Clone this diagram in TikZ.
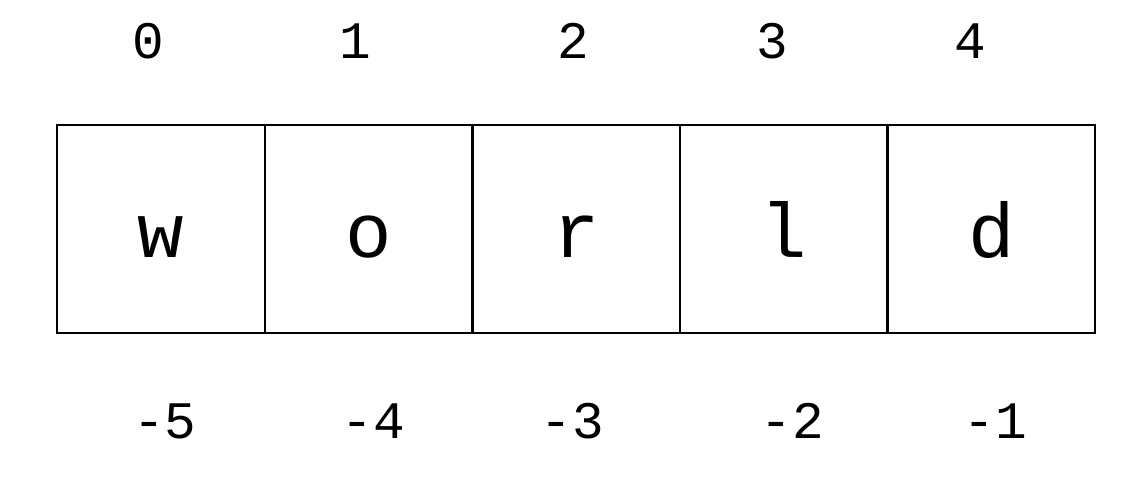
\documentclass[tikz,border=0pt]{standalone}
\usepackage{fontspec}
\setmonofont{Liberation Mono}
\usepackage{tikz}
\usetikzlibrary{positioning}
\tikzset{
	cell/.style={
		rectangle,
		draw=black,
		line width=0.7pt,
		minimum width=2.076cm,
		minimum height=2.08cm,
		outer sep=0pt,
		inner sep=0pt,
	},
	letter/.style={
		font=\ttfamily\fontsize{22}{26}\selectfont,
		anchor=base,
	},
	index/.style={
		font=\ttfamily\fontsize{15}{18}\selectfont,
		anchor=base,
	},
}
\begin{document}
\begin{tikzpicture}[node distance=0cm]
		\useasboundingbox (0,0) rectangle (11.44,-4.84);
		\node [cell] (W) at (1.61,-2.29) {};
		\node [cell] (O) [right=of W] {};
		\node [cell] (R) [right=of O] {};
		\node [cell] (L) [right=of R] {};
		\node [cell] (D) [right=of L] {};
		
		\node [letter] (w-char) at ([yshift=-0.28cm]W.center) {w};
		\node [letter] (o-char) at ([yshift=-0.28cm]O.center) {o};
		\node [letter] (r-char) at ([yshift=-0.28cm]R.center) {r};
		\node [letter] (l-char) at ([yshift=-0.28cm]L.center) {l};
		\node [letter] (d-char) at ([yshift=-0.28cm]D.center) {d};
		
		\node [index] (pos0) at (1.48,-0.58) {0};
		\node [index] (pos1) at (3.55,-0.58) {1};
		\node [index] (pos2) at (5.73,-0.58) {2};
		\node [index] (pos3) at (7.72,-0.58) {3};
		\node [index] (pos4) at (9.70,-0.58) {4};
		
		\node [index] (neg5) at (1.65,-4.38) {-5};
		\node [index] (neg4) at (3.73,-4.38) {-4};
		\node [index] (neg3) at (5.72,-4.38) {-3};
		\node [index] (neg2) at (7.92,-4.38) {-2};
		\node [index] (neg1) at (9.95,-4.38) {-1};
	\end{tikzpicture}
\end{document}
